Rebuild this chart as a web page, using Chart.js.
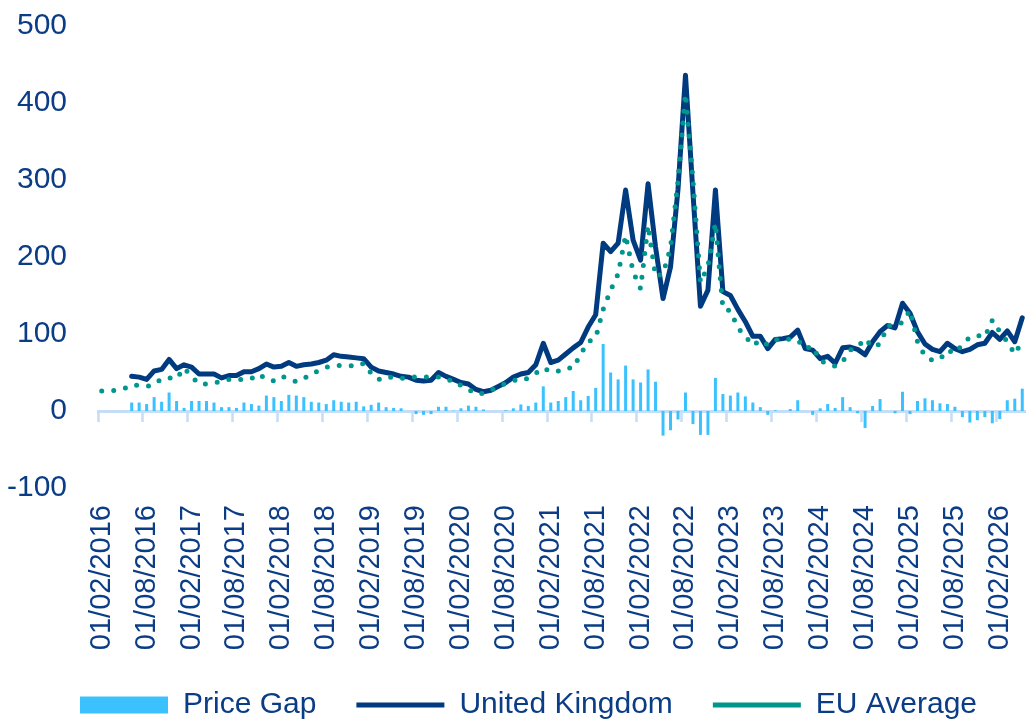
<!DOCTYPE html>
<html>
<head>
<meta charset="utf-8">
<script src="https://cdn.jsdelivr.net/npm/chart.js@4"></script>
<style>
  html, body { margin: 0; padding: 0; background: #fff; overflow: hidden; }
  #wrap { width: 1026px; height: 722px; position: relative; }
</style>
</head>
<body>
<div id="wrap"><canvas id="priceChart"></canvas></div>
<script>
// Monthly points, first one is 01/02/2016
const startYear = 2016;
const startMonth = 2;
const monthCount = 124;

const categories = [];
for (let i = 0; i < monthCount; i++) {
    const m = (startMonth - 1 + i) % 12 + 1;
    const y = startYear + Math.floor((startMonth - 1 + i) / 12);
    categories.push('01/' + String(m).padStart(2, '0') + '/' + y);
}

const ukValues = [
    null, null, null, null, 45, 44, 41, 52, 54, 67,
    55, 60, 57, 48, 48, 48, 43, 46, 46, 51,
    51, 55, 61, 57, 58, 63, 58, 60, 61, 63,
    66, 73, 71, 70, 69, 68, 57, 52, 50, 48,
    45, 44, 40, 39, 40, 50, 45, 41, 37, 35,
    28, 25, 27, 32, 37, 44, 48, 50, 60, 88,
    63, 66, 74, 82, 89, 109, 125, 218, 207, 218,
    287, 222, 196, 295, 213, 146, 187, 288, 436, 283,
    136, 157, 287, 155, 150, 132, 116, 97, 97, 81,
    93, 94, 96, 105, 81, 79, 68, 71, 62, 82,
    83, 80, 73, 90, 103, 111, 108, 140, 127, 103,
    87, 80, 77, 88, 81, 77, 80, 86, 88, 102,
    93, 104, 90, 121
];

const euValues = [
    26, 26, 27, 29, 34, 33, 32, 34, 42, 43,
    42, 56, 45, 35, 35, 37, 38, 41, 42, 40,
    42, 48, 41, 39, 45, 42, 38, 42, 49, 52,
    57, 59, 59, 59, 58, 62, 49, 41, 45, 43,
    42, 44, 44, 44, 44, 44, 40, 40, 33, 28,
    22, 23, 27, 32, 36, 40, 39, 43, 49, 56,
    51, 52, 56, 56, 74, 90, 95, 132, 157, 178,
    228, 181, 159, 241, 175, 178, 212, 299, 412, 300,
    167, 188, 244, 133, 130, 108, 97, 85, 92, 86,
    92, 94, 93, 92, 81, 84, 65, 62, 58, 64,
    79, 83, 94, 83, 87, 111, 111, 115, 131, 90,
    71, 66, 67, 79, 75, 86, 96, 98, 96, 118,
    103, 90, 74, 91
];

const gapValues = [
    null, null, null, null, 11, 11, 9, 18, 12, 24,
    13, 4, 13, 13, 13, 11, 5, 5, 4, 11,
    9, 7, 20, 18, 13, 21, 20, 18, 12, 11,
    9, 14, 12, 11, 12, 6, 8, 11, 5, 4,
    3.5, 0, -4, -5, -4, 5.5, 5.5, 0.5, 3.5, 7,
    5.5, 2, 0, 0, 1, 3.5, 8.5, 6.5, 11, 32,
    11, 13, 18, 26, 14, 19.5, 30, 87, 50, 41,
    59, 41, 37, 54, 38, -32, -25, -11, 24, -17,
    -31, -31, 43, 22, 20, 24, 19, 11, 5, -5,
    1, 0, 2.5, 14, 0, -5, 3.5, 9, 4, 18,
    5, -3, -22, 6.5, 15.5, 0, -3, 25, -4, 13,
    16.5, 14, 10, 9, 5.5, -8, -15, -12, -8, -16,
    -10.5, 14, 16, 29
];

const yTicks = [-100, 0, 100, 200, 300, 400, 500];

const textColor = '#0b3c86';
const axisColor = '#c6ddf8';
const fontFamily = "'Liberation Sans', Arial, sans-serif";

// keep the category axes from reserving side space for their labels
function noSidePadding(scale) {
    scale.paddingLeft = 0;
    scale.paddingRight = 0;
}

const ctx = document.getElementById('priceChart').getContext('2d');
new Chart(ctx, {
    type: 'bar',
    data: {
        labels: categories,
        datasets: [{
            type: 'bar',
            label: 'Price Gap',
            data: gapValues,
            backgroundColor: '#3cc1ff',
            borderWidth: 0,
            barPercentage: 0.4,
            categoryPercentage: 1,
            pointStyle: 'rect',
            order: 2
        },
        {
            type: 'line',
            label: 'United Kingdom',
            data: ukValues,
            borderColor: '#003b80',
            backgroundColor: '#003b80',
            borderWidth: 5,
            borderCapStyle: 'round',
            borderJoinStyle: 'round',
            pointRadius: 0,
            tension: 0,
            pointStyle: 'line',
            order: 1
        },
        {
            type: 'line',
            label: 'EU Average',
            data: euValues,
            borderColor: '#00968e',
            backgroundColor: '#00968e',
            borderWidth: 5,
            borderDash: [0, 12],
            borderCapStyle: 'round',
            pointRadius: 0,
            tension: 0,
            pointStyle: 'line',
            order: 0
        }]
    },
    options: {
        responsive: true,
        maintainAspectRatio: false,
        animation: false,
        layout: {
            autoPadding: false,
            padding: { left: 40, right: 0, top: 26, bottom: 0 }
        },
        plugins: {
            tooltip: { enabled: false },
            legend: {
                position: 'bottom',
                align: 'start',
                maxHeight: 72,
                labels: {
                    usePointStyle: true,
                    pointStyleWidth: 88,
                    boxHeight: 17,
                    padding: 40,
                    color: textColor,
                    font: { family: fontFamily, size: 30 },
                    sort: (a, b) => a.datasetIndex - b.datasetIndex
                }
            }
        },
        scales: {
            x: {
                position: 'bottom',
                offset: true,
                grid: {
                    display: true,
                    offset: true,
                    drawOnChartArea: false,
                    drawTicks: true,
                    tickLength: 17,
                    tickColor: 'rgba(0,0,0,0)'
                },
                border: { display: false },
                afterFit: scale => {
                    scale.height = 162;
                    noSidePadding(scale);
                },
                ticks: {
                    autoSkip: false,
                    maxRotation: 90,
                    minRotation: 90,
                    padding: 0,
                    color: textColor,
                    font: { family: fontFamily, size: 29 },
                    callback: function (value, index) {
                        return index % 6 === 0 ? this.getLabelForValue(value) : null;
                    }
                }
            },
            x2: {
                position: { y: 0 },
                offset: true,
                afterFit: noSidePadding,
                grid: {
                    display: true,
                    offset: true,
                    drawOnChartArea: false,
                    drawTicks: true,
                    tickLength: 9,
                    tickWidth: 2.5,
                    tickColor: c => (c.index % 6 === 0 ? axisColor : 'rgba(0,0,0,0)')
                },
                border: { display: true, color: axisColor, width: 3 },
                ticks: { display: false, autoSkip: false }
            },
            y: {
                min: yTicks[0],
                max: yTicks[yTicks.length - 1],
                afterFit: scale => { scale.width = 58; },
                afterBuildTicks: scale => { scale.ticks = yTicks.map(v => ({ value: v })); },
                grid: { display: false, drawTicks: false },
                border: { display: false },
                ticks: {
                    mirror: true,
                    crossAlign: 'far',
                    padding: -91,
                    color: textColor,
                    font: { family: fontFamily, size: 30 }
                }
            }
        }
    }
});
</script>
</body>
</html>
